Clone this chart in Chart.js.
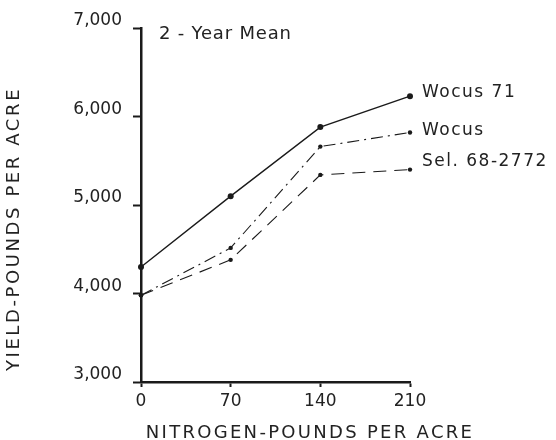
<!DOCTYPE html>
<html>
<head>
<meta charset="utf-8">
<script src="https://cdn.jsdelivr.net/npm/chart.js@4"></script>
<style>
  html, body { margin: 0; padding: 0; background: #fff; }
  #wrap { width: 556px; height: 440px; }
</style>
</head>
<body>
<div id="wrap"><canvas id="myChart" width="556" height="440"></canvas></div>
<script>
  // nitrogen rates (x) and yields per variety
  const nitrogen = [0, 70, 140, 210];
  const wocus71 = [4300, 5100, 5880, 6230];
  const wocus = [3980, 4515, 5660, 5820];
  const sel68 = [3980, 4380, 5340, 5400];
  const seriesNames = ["Wocus 71", "Wocus", "Sel. 68-2772"];
  const yTicks = [3000, 4000, 5000, 6000, 7000];

  const ink = "#1a1a1a";
  const toPoints = (ys) => nitrogen.map((x, i) => ({ x: x, y: ys[i] }));

  // text next to the last point of each line + titles
  const labelPlugin = {
    id: "labels",
    afterDraw(chart) {
      const ctx = chart.ctx;
      const area = chart.chartArea;
      ctx.save();
      ctx.fillStyle = "#222";
      ctx.textBaseline = "middle";
      ctx.textAlign = "left";
      ctx.font = "17px 'DejaVu Sans'";
      ctx.letterSpacing = "1.5px";
      const dy = [-4, -2, -8];
      chart.data.datasets.forEach((ds, i) => {
        const pts = chart.getDatasetMeta(i).data;
        const last = pts[pts.length - 1];
        ctx.fillText(seriesNames[i], last.x + 12, last.y + dy[i]);
      });

      ctx.font = "18px 'DejaVu Sans'";
      ctx.letterSpacing = "0.8px";
      ctx.fillText("2 - Year Mean", area.left + 18, area.top + 6);

      // x title
      ctx.letterSpacing = "2.3px";
      ctx.textAlign = "center";
      ctx.fillText("NITROGEN-POUNDS PER ACRE", 310, 433);

      // y title
      ctx.translate(14, 229);
      ctx.rotate(-Math.PI / 2);
      ctx.letterSpacing = "2.6px";
      ctx.fillText("YIELD-POUNDS PER ACRE", 0, 0);
      ctx.restore();
    },
  };

  const data = {
    datasets: [
      {
        label: seriesNames[0],
        data: toPoints(wocus71),
        borderColor: ink,
        backgroundColor: ink,
        borderWidth: 1.4,
        pointRadius: 3,
        pointBorderWidth: 0,
      },
      {
        label: seriesNames[1],
        data: toPoints(wocus),
        borderColor: ink,
        backgroundColor: ink,
        borderWidth: 1.1,
        borderDash: [12, 5, 2, 5],
        pointRadius: 2.2,
        pointBorderWidth: 0,
      },
      {
        label: seriesNames[2],
        data: toPoints(sel68),
        borderColor: ink,
        backgroundColor: ink,
        borderWidth: 1.1,
        borderDash: [13, 8],
        pointRadius: 2.2,
        pointBorderWidth: 0,
      },
    ],
  };

  const config = {
    type: "line",
    data: data,
    plugins: [labelPlugin],
    options: {
      responsive: false,
      animation: false,
      clip: false,
      layout: { padding: { top: 28, right: 146, left: 0, bottom: 0 } },
      plugins: {
        legend: { display: false },
        tooltip: { enabled: false },
      },
      scales: {
        x: {
          type: "linear",
          min: 0,
          max: 210,
          afterFit: (s) => { s.height = 58; },
          afterBuildTicks: (s) => { s.ticks = nitrogen.map((v) => ({ value: v })); },
          border: { color: ink, width: 2.5 },
          grid: { drawOnChartArea: false, tickLength: 5, tickWidth: 2, color: ink },
          ticks: { color: "#222", padding: 4, font: { family: "DejaVu Sans", size: 17 } },
        },
        y: {
          min: 3000,
          max: 7000,
          afterFit: (s) => { s.width = 141; },
          afterBuildTicks: (s) => { s.ticks = yTicks.map((v) => ({ value: v })); },
          border: { color: ink, width: 2.5 },
          grid: { drawOnChartArea: false, tickLength: 8, tickWidth: 2, color: ink },
          ticks: {
            color: "#222",
            padding: 11,
            labelOffset: -7,
            font: { family: "DejaVu Sans", size: 17 },
            callback: (v) => v.toLocaleString("en-US"),
          },
        },
      },
    },
  };

  const myChart = new Chart(document.getElementById("myChart"), config);
</script>
</body>
</html>
